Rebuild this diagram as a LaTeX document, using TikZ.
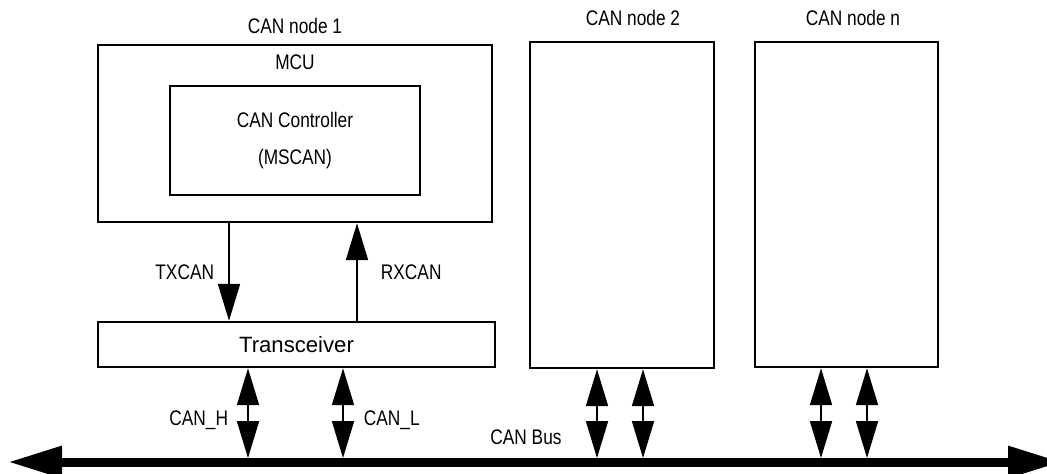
\documentclass[tikz,border=0pt]{standalone}
\usepackage{fontspec}
\setmainfont{Liberation Sans}[FakeStretch=0.82]
\newfontfamily\wideface{Liberation Sans}
\usetikzlibrary{arrows.meta,positioning}

\begin{document}
\begin{tikzpicture}[>={Triangle[length=0.74cm,width=0.44cm]},
	font=\fontsize{12}{21}\selectfont,
	box/.style={draw,line width=1.4pt,inner sep=0pt},
	sig/.style={line width=1.1pt},
	lbl/.style={inner sep=0pt},
	canbus/.style={line width=0.18cm,
		{Triangle[length=1.08cm,width=0.6cm]}-{Triangle[length=1.08cm,width=0.6cm]}}]
	\useasboundingbox (0,0) rectangle (20.94,9.46);

	% CAN node 1
	\node[box,minimum width=7.88cm,minimum height=3.54cm] (mcu) at (5.9,6.79) {};
	\node[lbl,below=0.22cm of mcu.north] (mcutxt) {MCU};
	\node[box,minimum width=5cm,minimum height=2.18cm,align=center] (ctrl) at (5.9,6.65)
		{CAN Controller\\(MSCAN)};
	\node[box,minimum width=7.94cm,minimum height=0.9cm,font=\wideface\fontsize{12.6}{14}\selectfont]
		(trx) at (5.93,2.57) {Transceiver};
	\node[lbl,above=0.2cm of mcu] (name1) {CAN node 1};

	% other nodes
	\node[box,minimum width=3.68cm,minimum height=6.52cm] (node2) at (12.44,5.36) {};
	\node[box,minimum width=3.66cm,minimum height=6.5cm] (noden) at (16.93,5.37) {};
	\node[lbl,above=0.3cm of node2,xshift=0.22cm] (name2) {CAN node 2};
	\node[lbl,above=0.3cm of noden,xshift=0.13cm] (namen) {CAN node n};

	% bus
	\coordinate (busL) at (0.16,0.22);
	\coordinate (busR) at (21.24,0.22);
	\draw[canbus] (busL) -- (busR);
	\node[lbl] (buslbl) at (10.52,0.72) {CAN Bus};

	% TXCAN / RXCAN
	\coordinate (tx) at (4.58,0);
	\coordinate (rx) at (7.14,0);
	\draw[sig,->] (tx |- mcu.south) -- node[lbl,midway,left=0.28cm]{TXCAN} (tx |- trx.north);
	\draw[sig,->] (rx |- trx.north) -- node[lbl,midway,right=0.46cm]{RXCAN} (rx |- mcu.south);

	% CAN_H / CAN_L
	\coordinate (canh) at (4.96,0);
	\coordinate (canl) at (6.86,0);
	\draw[sig,<->,shorten >=0.08cm] (canh |- trx.south) -- node[lbl,pos=0.55,left=0.38cm]{CAN\_H} (canh |- busL);
	\draw[sig,<->,shorten >=0.08cm] (canl |- trx.south) -- node[lbl,pos=0.55,right=0.4cm]{CAN\_L} (canl |- busL);
	\foreach \x/\b in {11.94/node2, 12.86/node2, 16.42/noden, 17.34/noden} {
		\draw[sig,<->,shorten >=0.08cm] (\x,0 |- \b.south) -- (\x,0 |- busL);
	}
\end{tikzpicture}
\end{document}
